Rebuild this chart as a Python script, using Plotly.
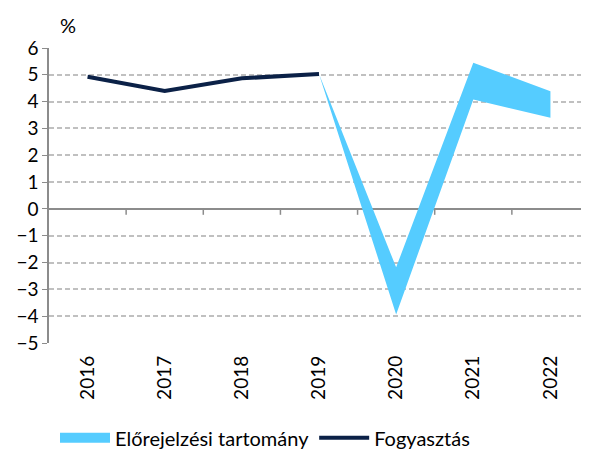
import plotly.graph_objects as go

years = ["2016", "2017", "2018", "2019", "2020", "2021", "2022"]
consumption_years = ["2016", "2017", "2018", "2019"]
consumption = [4.93, 4.4, 4.87, 5.03]
band_years = ["2019", "2020", "2021", "2022"]
band_low = [5.03, -3.94, 4.08, 3.4]
band_high = [5.03, -2.18, 5.45, 4.39]
y_ticks = [-5, -4, -3, -2, -1, 0, 1, 2, 3, 4, 5, 6]

FONT = "Lato"
BAND = "#55CCFF"
fig = go.Figure()
fig.add_trace(go.Scatter(x=band_years, y=band_low, mode="lines", line=dict(width=0, color=BAND),
                         showlegend=False, hoverinfo="skip"))
fig.add_trace(go.Scatter(x=band_years, y=band_high, mode="lines", line=dict(width=0, color=BAND),
                         fill="tonexty", fillcolor=BAND, name="Előrejelzési tartomány", showlegend=False))
# legend proxy for the band (thick swatch)
fig.add_trace(go.Scatter(x=[None], y=[None], mode="lines", line=dict(width=16, color=BAND),
                         name="Előrejelzési tartomány"))
fig.add_trace(go.Scatter(x=consumption_years, y=consumption, mode="lines",
                         line=dict(width=4, color="#0B2147"), name="Fogyasztás"))

# category boundary tick marks on the zero line
for i in range(len(years) - 1):
    fig.add_shape(type="line", xref="x", yref="y", x0=i + 0.5, x1=i + 0.5, y0=0, y1=-0.22,
                  line=dict(color="#8c8c8c", width=1.5))

fig.update_layout(
    width=581, height=442,
    margin=dict(l=41, r=0, t=40, b=107, autoexpand=False),
    plot_bgcolor="white", paper_bgcolor="white",
    font=dict(family=FONT, size=19, color="#000000"),
    showlegend=True,
    legend=dict(orientation="h", x=0.40, xanchor="center", y=-0.255, yanchor="top",
                traceorder="normal",
                font=dict(size=20, family=FONT), itemwidth=50, tracegroupgap=0),
    annotations=[dict(text="%", xref="paper", yref="paper", x=0.035, y=1.03, xanchor="center",
                      yanchor="bottom", showarrow=False, font=dict(size=20, family=FONT))],
)
fig.update_xaxes(type="category", categoryorder="array", categoryarray=years, range=[-0.5, 6.5],
                 tickangle=-90, showgrid=False, showline=False, ticks="", zeroline=False,
                 automargin=False, ticklabelstandoff=8, tickfont=dict(size=19, family=FONT))
fig.update_yaxes(range=[-5, 6], tickvals=y_ticks, showgrid=True, gridcolor="#c0c0c0", griddash="5px,3px",
                 gridwidth=1.5, zeroline=True, zerolinecolor="#8c8c8c", zerolinewidth=1.5,
                 showline=True, linecolor="#8c8c8c", linewidth=1.5, ticks="outside", ticklen=5,
                 tickcolor="#8c8c8c", automargin=False, tickfont=dict(size=19, family=FONT))

fig.write_html("out.html")
